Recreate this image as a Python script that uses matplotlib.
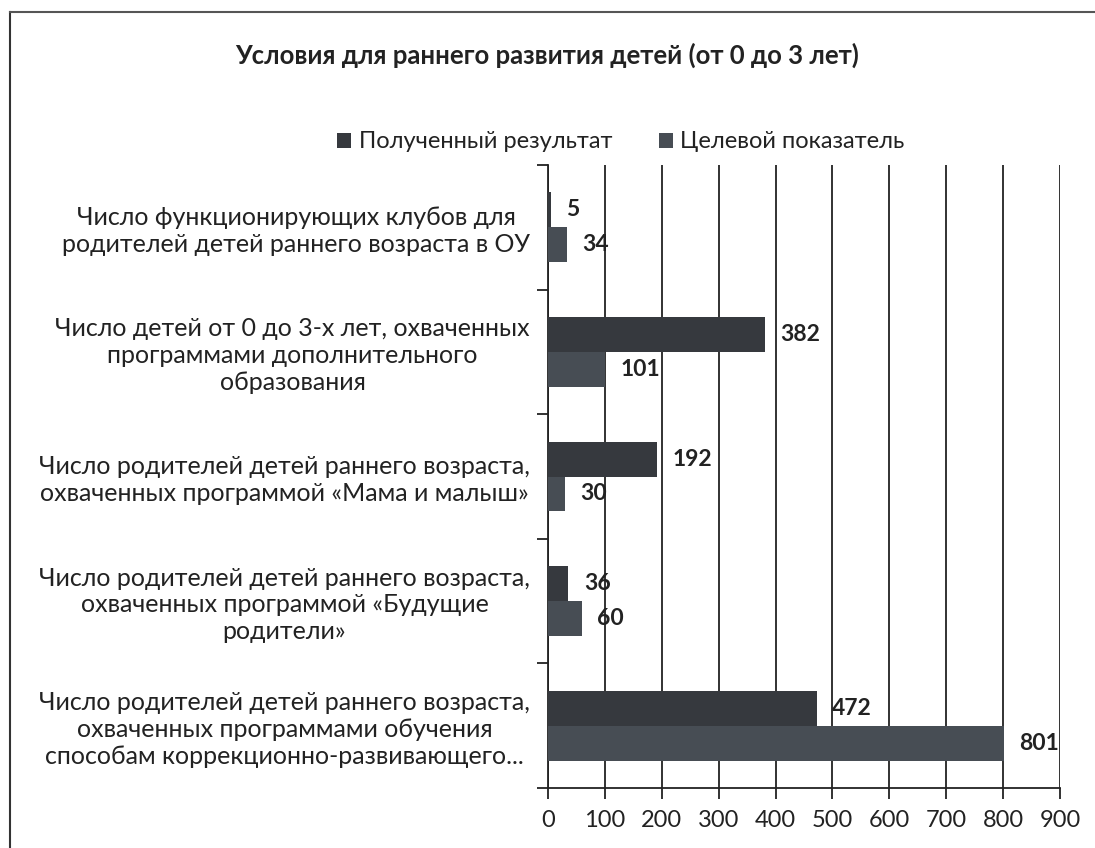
import numpy as np
import matplotlib
matplotlib.use("Agg")
import matplotlib.pyplot as plt
from matplotlib.lines import Line2D

plt.rcParams['font.family'] = ['Lato', 'DejaVu Sans']

categories = [
    "Число функционирующих клубов для\nродителей детей раннего возраста в ОУ",
    "Число детей от 0 до 3-х лет, охваченных\nпрограммами дополнительного\nобразования",
    "Число родителей детей раннего возраста,\nохваченных программой «Мама и малыш»",
    "Число родителей детей раннего возраста,\nохваченных программой «Будущие\nродители»",
    "Число родителей детей раннего возраста,\nохваченных программами обучения\nспособам коррекционно-развивающего...",
]
result = [5, 382, 192, 36, 472]
target = [34, 101, 30, 60, 801]
series_names = ["Полученный результат", "Целевой показатель"]
xticks = [0, 100, 200, 300, 400, 500, 600, 700, 800, 900]

col_res = "#36393e"
col_tgt = "#474d54"
ink = "#222222"

fig = plt.figure(figsize=(10.95, 8.48), dpi=100)
ax = fig.add_axes([548 / 1095, 1 - 788 / 848, (1060 - 548) / 1095, (788 - 165) / 848])

y = np.arange(len(categories))
h = 0.28
b1 = ax.barh(y - h / 2, result, height=h, color=col_res, label=series_names[0], zorder=3)
b2 = ax.barh(y + h / 2, target, height=h, color=col_tgt, label=series_names[1], zorder=3)

for bars in (b1, b2):
    for r in bars:
        ax.annotate(str(int(r.get_width())), (r.get_width(), r.get_y() + r.get_height() / 2),
                    xytext=(11, 0), textcoords="offset points", ha="left", va="center",
                    fontsize=16.5, fontweight="bold", color=ink, zorder=4)

ax.set_xlim(0, 900)
ax.set_ylim(len(categories) - 0.5, -0.5)
ax.set_xticks(xticks)
ax.tick_params(axis="x", labelsize=17, length=8, width=1.3, color=ink, labelcolor=ink, pad=8)
ax.set_yticks(np.arange(len(categories) + 1) - 0.5)
ax.set_yticklabels([])
ax.set_yticks(y, minor=True)
ax.set_yticklabels(categories, minor=True, fontsize=18, color=ink, multialignment="center")
ax.tick_params(axis="y", which="major", length=8, width=1.3, color=ink)
ax.tick_params(axis="y", which="minor", length=0, pad=13)
ax.grid(axis="x", color=ink, linewidth=1.3, zorder=0)
for s in ("top", "right"):
    ax.spines[s].set_visible(False)
for s in ("left", "bottom"):
    ax.spines[s].set_color(ink)
    ax.spines[s].set_linewidth(1.3)

fig.text(547 / 1095, 1 - 55 / 848, "Условия для раннего развития детей (от 0 до 3 лет)",
         ha="center", va="center", fontsize=18.5, fontweight="bold", color=ink)
fig.legend(handles=[b1, b2], loc="center", bbox_to_anchor=(621 / 1095, 1 - 142 / 848), ncol=2,
           frameon=False, fontsize=17, handlelength=0.6, handleheight=0.6, handletextpad=0.3,
           columnspacing=2.0, labelcolor=ink)

fig.add_artist(Line2D([10 / 1095, 10 / 1095], [0, 1 - 12 / 848], color="#333333", linewidth=1.5))
fig.add_artist(Line2D([10 / 1095, 1], [1 - 12 / 848, 1 - 12 / 848], color="#555555", linewidth=1.5))

fig.savefig("out.png", dpi=100)
